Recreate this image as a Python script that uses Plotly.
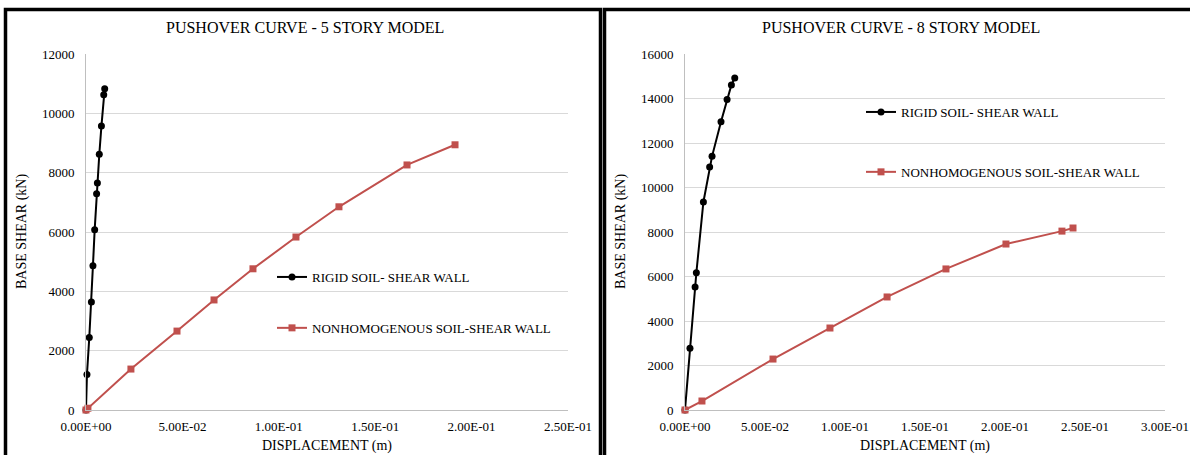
import plotly.graph_objects as go

# ---------------- data ----------------
# 5 story model
rigid5_disp = [0, 0.0005, 0.0017, 0.0028, 0.0036, 0.0045, 0.0055, 0.0059, 0.0069, 0.0080, 0.0092, 0.0097]
rigid5_shear = [0, 1200, 2440, 3640, 4860, 6080, 7290, 7650, 8620, 9570, 10630, 10830]
nonhom5_disp = [0, 0.0010, 0.0233, 0.0472, 0.0664, 0.0866, 0.1089, 0.1312, 0.1665, 0.1914]
nonhom5_shear = [0, 60, 1380, 2660, 3710, 4760, 5830, 6850, 8260, 8940]

# 8 story model
rigid8_disp = [0, 0.0031, 0.0063, 0.0071, 0.0115, 0.0154, 0.0169, 0.0225, 0.0263, 0.0290, 0.0311]
rigid8_shear = [0, 2770, 5530, 6170, 9350, 10920, 11400, 12960, 13950, 14610, 14920]
nonhom8_disp = [0, 0.0106, 0.0550, 0.0906, 0.1263, 0.1631, 0.2006, 0.2356, 0.2425]
nonhom8_shear = [0, 404, 2290, 3685, 5080, 6340, 7460, 8040, 8180]

series_names = ["RIGID SOIL- SHEAR WALL", "NONHOMOGENOUS SOIL-SHEAR WALL"]
titles = ["PUSHOVER CURVE - 5 STORY MODEL", "PUSHOVER CURVE - 8 STORY MODEL"]
x_title = "DISPLACEMENT (m)"
y_title = "BASE SHEAR (kN)"

x5_tickvals = [0, 0.05, 0.10, 0.15, 0.20, 0.25]
x5_ticktext = ["0.00E+00", "5.00E-02", "1.00E-01", "1.50E-01", "2.00E-01", "2.50E-01"]
x8_tickvals = [0, 0.05, 0.10, 0.15, 0.20, 0.25, 0.30]
x8_ticktext = ["0.00E+00", "5.00E-02", "1.00E-01", "1.50E-01", "2.00E-01", "2.50E-01", "3.00E-01"]
y5_tickvals = [0, 2000, 4000, 6000, 8000, 10000, 12000]
y8_tickvals = [0, 2000, 4000, 6000, 8000, 10000, 12000, 14000, 16000]

# ---------------- layout helpers ----------------
W, H = 1190, 455
FONT = "Liberation Serif"
BLACK = "#000000"
RED = "#C0504D"
GRID = "#D9D9D9"
AXIS = "#BFBFBF"


def px(x):
    return x / W


def py(y):
    return (H - y) / H


fig = go.Figure()

# left chart traces
fig.add_trace(go.Scatter(x=rigid5_disp, y=rigid5_shear, mode="lines+markers", name=series_names[0],
                         line=dict(color=BLACK, width=2), marker=dict(symbol="circle", size=7, color=BLACK),
                         xaxis="x", yaxis="y", legend="legend", legendgroup="a", cliponaxis=False))
fig.add_trace(go.Scatter(x=nonhom5_disp, y=nonhom5_shear, mode="lines+markers", name=series_names[1],
                         line=dict(color=RED, width=2), marker=dict(symbol="square", size=7, color=RED),
                         xaxis="x", yaxis="y", legend="legend", legendgroup="b", cliponaxis=False))
# right chart traces
fig.add_trace(go.Scatter(x=rigid8_disp, y=rigid8_shear, mode="lines+markers", name=series_names[0],
                         line=dict(color=BLACK, width=2), marker=dict(symbol="circle", size=7, color=BLACK),
                         xaxis="x2", yaxis="y2", legend="legend2", legendgroup="c", cliponaxis=False))
fig.add_trace(go.Scatter(x=nonhom8_disp, y=nonhom8_shear, mode="lines+markers", name=series_names[1],
                         line=dict(color=RED, width=2), marker=dict(symbol="square", size=7, color=RED),
                         xaxis="x2", yaxis="y2", legend="legend2", legendgroup="d", cliponaxis=False))

tickfont = dict(family=FONT, size=13, color=BLACK)
common_x = dict(showgrid=False, zeroline=False, showline=True, linecolor=AXIS, linewidth=1,
                ticks="", tickfont=tickfont, ticklabelstandoff=4, fixedrange=True, automargin=False)
common_y = dict(showgrid=True, gridcolor=GRID, gridwidth=1, zeroline=False, showline=True,
                linecolor=AXIS, linewidth=1, ticks="", tickfont=tickfont, tickformat="d",
                ticklabelstandoff=8, fixedrange=True, automargin=False)

ydom = [py(410), py(54)]
fig.update_layout(
    template="none",
    width=W, height=H,
    margin=dict(l=0, r=0, t=0, b=0, pad=0, autoexpand=False),
    paper_bgcolor="white", plot_bgcolor="white",
    font=dict(family=FONT, size=13, color=BLACK),
    xaxis=dict(domain=[px(86), px(568)], range=[0, 0.25], tickvals=x5_tickvals, ticktext=x5_ticktext,
               anchor="y", **common_x),
    yaxis=dict(domain=ydom, range=[0, 12000], tickvals=y5_tickvals, anchor="x", **common_y),
    xaxis2=dict(domain=[px(685), px(1165)], range=[0, 0.30], tickvals=x8_tickvals, ticktext=x8_ticktext,
                anchor="y2", **common_x),
    yaxis2=dict(domain=ydom, range=[0, 16000], tickvals=y8_tickvals, anchor="x2", **common_y),
    legend=dict(x=px(272), y=py(262), xanchor="left", yanchor="top", bgcolor="rgba(0,0,0,0)",
                font=dict(family=FONT, size=13, color=BLACK), itemwidth=30, tracegroupgap=31,
                traceorder="grouped", borderwidth=0),
    legend2=dict(x=px(861), y=py(97), xanchor="left", yanchor="top", bgcolor="rgba(0,0,0,0)",
                 font=dict(family=FONT, size=13, color=BLACK), itemwidth=30, tracegroupgap=40,
                 traceorder="grouped", borderwidth=0),
    showlegend=True,
)

# titles and axis titles
ann = []
for cx, t in [(305, titles[0]), (901, titles[1])]:
    ann.append(dict(text=t, x=px(cx), y=py(27), xref="paper", yref="paper", showarrow=False,
                    xanchor="center", yanchor="middle", font=dict(family=FONT, size=16, color=BLACK)))
for cx in [327, 925]:
    ann.append(dict(text=x_title, x=px(cx), y=py(446), xref="paper", yref="paper", showarrow=False,
                    xanchor="center", yanchor="middle", font=dict(family=FONT, size=14, color=BLACK)))
for cx in [22, 621]:
    ann.append(dict(text=y_title, x=px(cx), y=py(232), xref="paper", yref="paper", showarrow=False,
                    textangle=-90, xanchor="center", yanchor="middle",
                    font=dict(family=FONT, size=14, color=BLACK)))
fig.update_layout(annotations=ann)

# chart-area borders
fig.update_layout(shapes=[
    dict(type="rect", xref="paper", yref="paper", x0=px(5.5), x1=px(600.5), y0=py(480), y1=py(9.5),
         line=dict(color="black", width=3.5), layer="above"),
    dict(type="rect", xref="paper", yref="paper", x0=px(604.5), x1=px(1210), y0=py(480), y1=py(9.5),
         line=dict(color="black", width=3.5), layer="above"),
])

fig.write_html("out.html", config={"displayModeBar": False, "staticPlot": True},
               post_script="document.body.style.margin='0';document.body.style.overflow='hidden';")
